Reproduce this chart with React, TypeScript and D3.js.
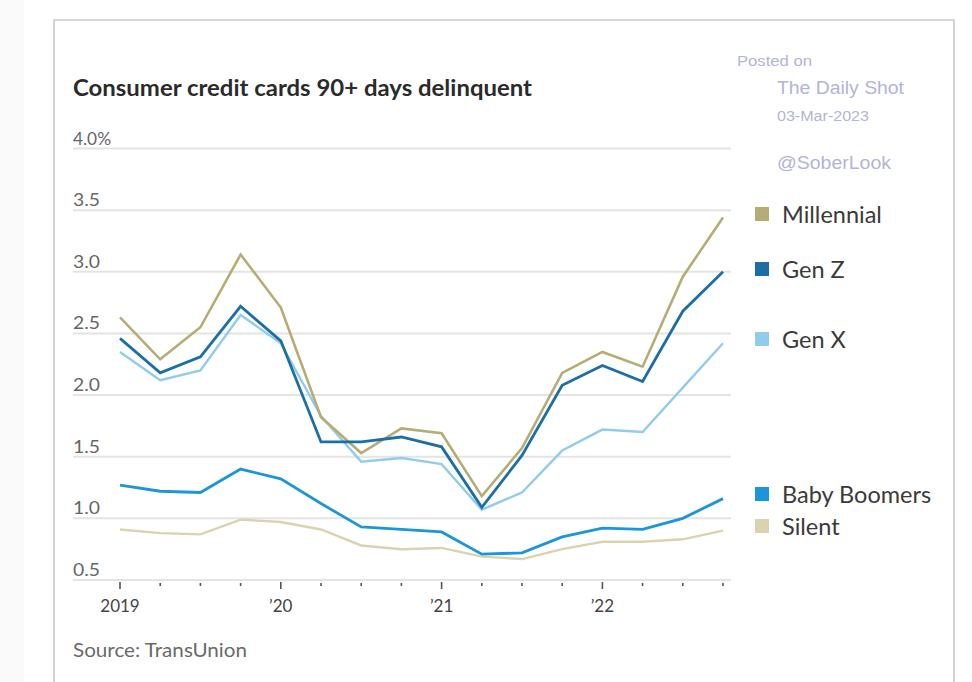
import React from "react";
import * as d3 from "d3";

const quarters = d3.range(16);
const yearTicks = [0, 4, 8, 12];
const yearLabels = ["2019", "\u201920", "\u201921", "\u201922"];
const yTicks = [0.5, 1.0, 1.5, 2.0, 2.5, 3.0, 3.5, 4.0];
const yTickLabels = ["0.5", "1.0", "1.5", "2.0", "2.5", "3.0", "3.5", "4.0%"];

const seriesNames = ["Millennial", "Gen Z", "Gen X", "Baby Boomers", "Silent"];
const seriesColors = ["#b5ad73", "#1c6fa6", "#92ccec", "#1a96d9", "#d9d3b0"];

const millennial = [2.63, 2.29, 2.55, 3.14, 2.71, 1.82, 1.53, 1.73, 1.69, 1.18, 1.57, 2.18, 2.35, 2.23, 2.96, 3.44];
const genZ = [2.46, 2.18, 2.31, 2.72, 2.44, 1.62, 1.62, 1.66, 1.58, 1.09, 1.51, 2.08, 2.24, 2.11, 2.68, 3.0];
const genX = [2.35, 2.12, 2.2, 2.65, 2.42, 1.83, 1.46, 1.49, 1.44, 1.07, 1.21, 1.55, 1.72, 1.7, 2.06, 2.42];
const boomers = [1.27, 1.22, 1.21, 1.4, 1.32, 1.12, 0.93, 0.91, 0.89, 0.71, 0.72, 0.85, 0.92, 0.91, 1.0, 1.16];
const silent = [0.91, 0.88, 0.87, 0.99, 0.97, 0.91, 0.78, 0.75, 0.76, 0.69, 0.67, 0.75, 0.81, 0.81, 0.83, 0.9];

const seriesValues = [millennial, genZ, genX, boomers, silent];
const legendY = [215, 270, 340, 495, 527];
const drawOrder = [4, 3, 2, 0, 1];
const strokeWidths = [2.6, 2.8, 2.4, 2.8, 2.4];

export default function App() {
  const x = d3.scaleLinear().domain([0, 15]).range([120, 723]);
  const y = d3.scaleLinear().domain([0.5, 4.0]).range([580, 148.5]);
  const line = d3
    .line<number>()
    .x((_, i) => x(i))
    .y((d) => y(d));

  const lavender = "#b3b3dc";
  const font = "Lato, 'Open Sans', sans-serif";
  const wm = "'Liberation Sans', Arial, sans-serif";

  return (
    <svg
      width={972}
      height={682}
      style={{ position: "absolute", left: 0, top: 0, background: "#fff" }}
      fontFamily={font}
    >
      <rect x={0} y={0} width={24} height={682} fill="#fafafa" />
      <path d="M54,682 V20 H954 V682" fill="none" stroke="#c9c9c9" strokeWidth={1.6} />

      <text x={73} y={96} fontSize={22} fontWeight={700} fill="#2b2b2b" textLength={459} lengthAdjust="spacingAndGlyphs">
        Consumer credit cards 90+ days delinquent
      </text>

      {yTicks.map((t, i) => (
        <g key={"g" + i}>
          <line x1={73} x2={731} y1={y(t)} y2={y(t)} stroke="#e4e4e4" strokeWidth={2} />
          <text x={73} y={y(t) - 4} fontSize={16.5} fill="#666" textLength={i === 7 ? 38 : 27} lengthAdjust="spacingAndGlyphs">
            {yTickLabels[i]}
          </text>
        </g>
      ))}

      {quarters.map((q) =>
        yearTicks.includes(q) ? (
          <line key={"t" + q} x1={x(q)} x2={x(q)} y1={582} y2={589} stroke="#555" strokeWidth={1.6} />
        ) : (
          <line key={"t" + q} x1={x(q)} x2={x(q)} y1={583} y2={586} stroke="#555" strokeWidth={1.6} />
        )
      )}
      {yearLabels.map((lab, i) => (
        <text key={"yl" + i} x={x(yearTicks[i])} y={612} fontSize={17} fill="#444" textAnchor="middle">
          {lab}
        </text>
      ))}

      {drawOrder.map((s) => (
        <path
          key={"s" + s}
          d={line(seriesValues[s]) || ""}
          fill="none"
          stroke={seriesColors[s]}
          strokeWidth={strokeWidths[s]}
          strokeLinejoin="miter"
        />
      ))}

      {seriesNames.map((n, i) => (
        <g key={"lg" + i}>
          <rect x={755} y={legendY[i] - 8} width={14} height={14} fill={seriesColors[i]} />
          <text x={782} y={legendY[i] + 8} fontSize={23.5} fill="#3a3a3a">
            {n}
          </text>
        </g>
      ))}

      <text x={73} y={657} fontSize={19} fill="#6a6a6a" textLength={174} lengthAdjust="spacingAndGlyphs">
        Source: TransUnion
      </text>

      <text x={737} y={66} fontSize={14} fill={lavender} fontFamily={wm} textLength={75} lengthAdjust="spacingAndGlyphs">
        Posted on
      </text>
      <text x={777} y={94} fontSize={19} fill={lavender} fontFamily={wm} textLength={127} lengthAdjust="spacingAndGlyphs">
        The Daily Shot
      </text>
      <text x={777} y={121} fontSize={14} fill={lavender} fontFamily={wm} textLength={92} lengthAdjust="spacingAndGlyphs">
        03-Mar-2023
      </text>
      <text x={777} y={169} fontSize={18} fill={lavender} fontFamily={wm} textLength={114} lengthAdjust="spacingAndGlyphs">
        @SoberLook
      </text>
    </svg>
  );
}
